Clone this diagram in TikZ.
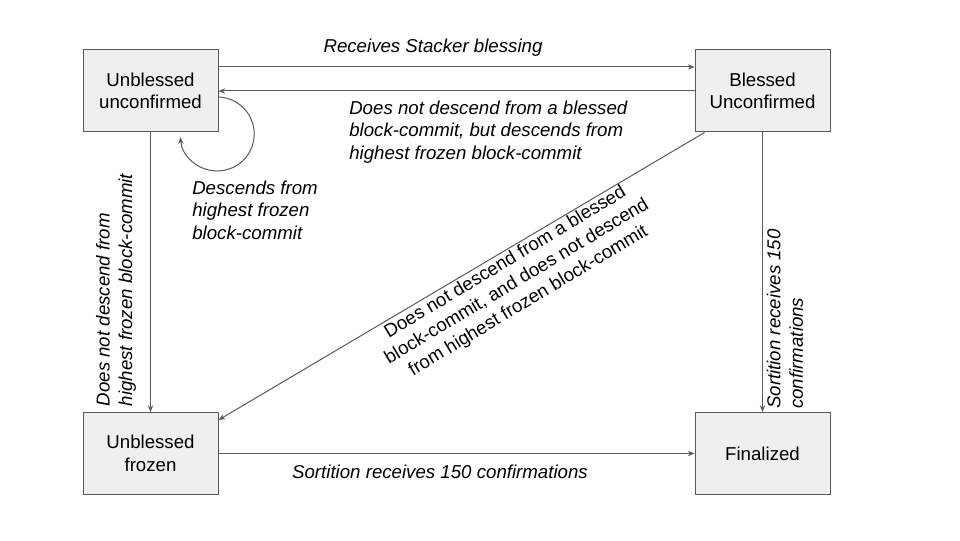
\documentclass[tikz,border=0pt]{standalone}
\usepackage{fontspec}
\setmainfont{Liberation Sans}
\usetikzlibrary{arrows.meta}
\definecolor{bord}{HTML}{595959}
\definecolor{fond}{HTML}{EFEFEF}

\begin{document}
\begin{tikzpicture}  % ------ Etats d'un block-commit -------------------
      [x=0.75pt, y=0.75pt,
       etat/.style={draw=bord, fill=fond, line width=0.75pt, minimum width=101.25pt,
                    minimum height=61.5pt, inner sep=0pt, align=center,
                    font=\fontsize{14}{16.8}\selectfont},
       fleche/.style={draw=bord, line width=0.75pt, -{Stealth[length=5pt,width=4pt]}},
       lbl/.style={inner sep=0pt, font=\fontsize{14}{16.8}\selectfont\itshape},
       lbldroit/.style={inner sep=0pt, font=\fontsize{14}{16.8}\selectfont\upshape}]

    \useasboundingbox (0,0) rectangle (960,540);

    \node[etat] (UU) at (150.5,449) {Unblessed\\unconfirmed};
    \node[etat] (BU) at (762.5,449) {Blessed\\Unconfirmed};
    \node[etat] (UF) at (150.5,86.5) {Unblessed\\frozen};
    \node[etat] (FI) at (762.5,86.5) {Finalized};

    \draw[fleche] ([yshift=18pt]UU.east) -- ([yshift=18pt]BU.west) ; % blessing
    \draw[fleche] (BU.west) -- (UU.east) ;
    \draw[fleche] ([yshift=-4.5pt]UU.east) arc[start angle=88, end angle=-175, radius=27.75pt] ; % boucle
    \draw[fleche] (UU.south) -- (UF.north) ;
    \draw[fleche] ([xshift=7.5pt]BU.south west) -- ([yshift=-6pt]UF.north east) ;
    \draw[fleche] (BU.south) -- (FI.north) ;
    \draw[fleche] (UF.east) -- (FI.west) ;

    \node[lbl] (lTop) at (433,492) {Receives Stacker blessing};
    \node[lbl, anchor=west, align=left] (lBack) at (349,408)
        {Does not descend from a blessed\\block-commit, but descends from\\highest frozen block-commit};
    \node[lbl, anchor=west, align=left] (lLoop) at (192,330)
        {Descends from\\highest frozen\\block-commit};
    \node[lbl, rotate=90, align=left] (lLeft) at (116,250)
        {Does not descend from\\highest frozen block-commit};
    \node[lbldroit, rotate=31, align=center] (lDiag) at (517,258)
        {Does not descend from a blessed\\block-commit, and does not descend\\from highest frozen block-commit};
    \node[lbl, rotate=90, align=left] (lRight) at (785,221)
        {Sortition receives 150\\confirmations};
    \node[lbl] (lBot) at (440,68) {Sortition receives 150 confirmations};
\end{tikzpicture}
\end{document}
